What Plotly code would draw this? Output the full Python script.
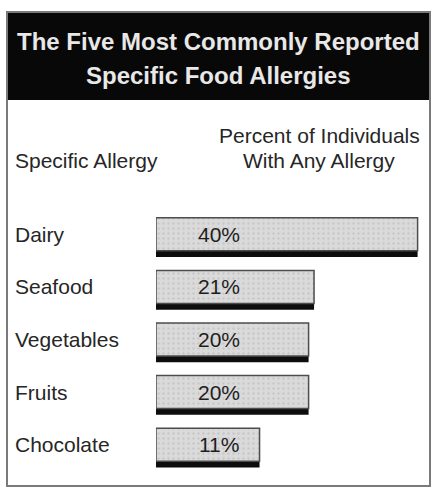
import plotly.graph_objects as go

# ---- data ----
allergies = ["Dairy", "Seafood", "Vegetables", "Fruits", "Chocolate"]
percents = [40, 21, 20, 20, 11]

title_lines = ["The Five Most Commonly Reported", "Specific Food Allergies"]
left_header = "Specific Allergy"
right_header = ["Percent of Individuals", "With Any Allergy"]

# ---- layout constants ----
W, H = 434, 488
L, R, T, B = 156, 426, 211, 474          # plot area in page pixels
BASE = -8                                 # bars start a little left of zero
XMAX = BASE + (R - L) / 5.45
FONT = "Liberation Sans, Arial, Helvetica, sans-serif"
INK = "#262626"


def px_x(p):
    return (p - L) / (R - L)


def px_y(p):
    return (B - p) / (B - T)


ypos = list(range(len(allergies)))
lengths = [v - BASE for v in percents]

fig = go.Figure()

# dark shadow strip under each bar
fig.add_trace(go.Bar(
    y=ypos, x=lengths, base=BASE, orientation="h",
    offset=0.22, width=0.155,
    marker=dict(color="#0d0d0d", line=dict(width=0)),
    hoverinfo="skip", showlegend=False,
))

# stippled grey bars
fig.add_trace(go.Bar(
    y=ypos, x=lengths, base=BASE, orientation="h",
    offset=-0.371, width=0.628,
    marker=dict(
        color="#dadada",
        line=dict(color="#4d4d4d", width=1.5),
        pattern=dict(shape=".", fgcolor="#b4b4b4", size=5, solidity=0.18),
    ),
    hoverinfo="skip", showlegend=False,
))

annotations = []
fill_mid = -0.057
for i, (name, v) in enumerate(zip(allergies, percents)):
    annotations.append(dict(
        x=px_x(13), xref="paper", y=i + fill_mid, yref="y",
        text=name, showarrow=False, xanchor="left", yanchor="middle",
        font=dict(family=FONT, size=21, color=INK),
    ))
    annotations.append(dict(
        x=BASE + (219 - L) / 5.45, xref="x", y=i + fill_mid, yref="y",
        text=f"{v}%", showarrow=False, xanchor="center", yanchor="middle",
        font=dict(family=FONT, size=21, color="#1e1e1e"),
    ))

# header titles (white on black)
for line, ypx in zip(title_lines, [41, 75]):
    annotations.append(dict(
        x=px_x(218), xref="paper", y=px_y(ypx), yref="paper",
        text=f"<b>{line}</b>", showarrow=False,
        xanchor="center", yanchor="middle",
        font=dict(family=FONT, size=24, color="#e8e8e8"),
    ))

# column headers
annotations.append(dict(
    x=px_x(13), xref="paper", y=px_y(161), yref="paper",
    text=left_header, showarrow=False, xanchor="left", yanchor="middle",
    font=dict(family=FONT, size=21, color=INK),
))
for line, ypx in zip(right_header, [136, 160]):
    annotations.append(dict(
        x=px_x(319), xref="paper", y=px_y(ypx), yref="paper",
        text=line, showarrow=False, xanchor="center", yanchor="middle",
        font=dict(family=FONT, size=21, color=INK),
    ))

shapes = [
    # black title band
    dict(type="rect", xref="paper", yref="paper",
         x0=px_x(7), x1=px_x(430), y0=px_y(100), y1=px_y(12),
         fillcolor="#080808", line=dict(width=0), layer="below"),
    # outer frame
    dict(type="rect", xref="paper", yref="paper",
         x0=px_x(7), x1=px_x(430), y0=px_y(486), y1=px_y(12),
         fillcolor="rgba(0,0,0,0)", line=dict(color="#7a7a7a", width=2),
         layer="above"),
]

fig.update_layout(
    width=W, height=H,
    margin=dict(l=L, r=W - R, t=T, b=H - B, pad=0),
    paper_bgcolor="white", plot_bgcolor="white",
    barmode="overlay",
    xaxis=dict(range=[BASE, XMAX], visible=False, fixedrange=True),
    yaxis=dict(range=[len(allergies) - 0.5, -0.5], visible=False, fixedrange=True),
    annotations=annotations,
    shapes=shapes,
    showlegend=False,
)

fig.write_html("out.html", config={"displayModeBar": False})
